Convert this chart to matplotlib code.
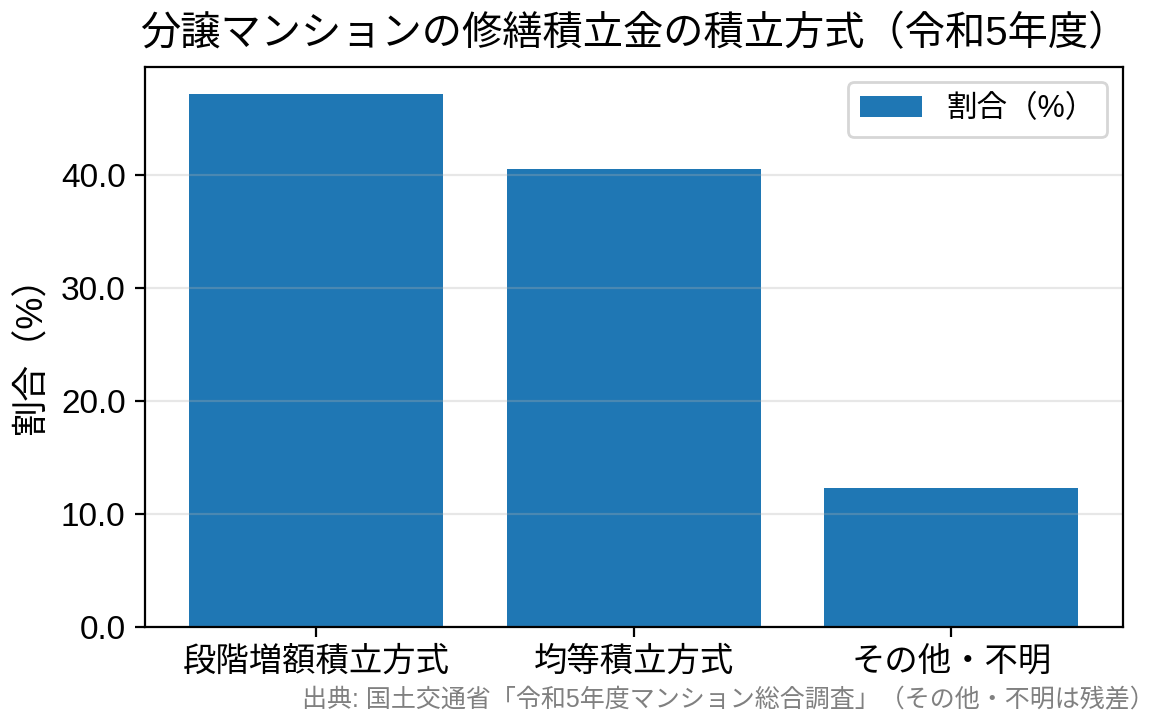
import matplotlib
matplotlib.use("Agg")
import matplotlib.pyplot as plt
from matplotlib.ticker import FormatStrFormatter

plt.rcParams['font.family'] = ['Liberation Sans', 'Noto Sans CJK JP', 'DejaVu Sans']

categories = ["段階増額積立方式", "均等積立方式", "その他・不明"]
values = [47.2, 40.5, 12.3]
series_label = "割合（%）"
title = "分譲マンションの修繕積立金の積立方式（令和5年度）"
ylabel = "割合（%）"
source = "出典: 国土交通省「令和5年度マンション総合調査」（その他・不明は残差）"

fig, ax = plt.subplots(figsize=(5.825, 3.625), dpi=200)
fig.subplots_adjust(left=0.1245, right=0.9637, top=0.9076, bottom=0.1348)

ax.bar(categories, values, color="#1f77b4", width=0.8, label=series_label)
ax.set_title(title, fontsize=14.5, pad=8)
ax.set_ylabel(ylabel, fontsize=13)
ax.yaxis.set_major_formatter(FormatStrFormatter("%.1f"))
ax.tick_params(axis="both", labelsize=12)
ax.grid(axis="y", alpha=0.3)
ax.legend(loc="upper right", fontsize=11)

fig.text(0.9915, 0.018, source, ha="right", va="bottom", fontsize=9, color="gray")

fig.savefig("out.png", dpi=200)
